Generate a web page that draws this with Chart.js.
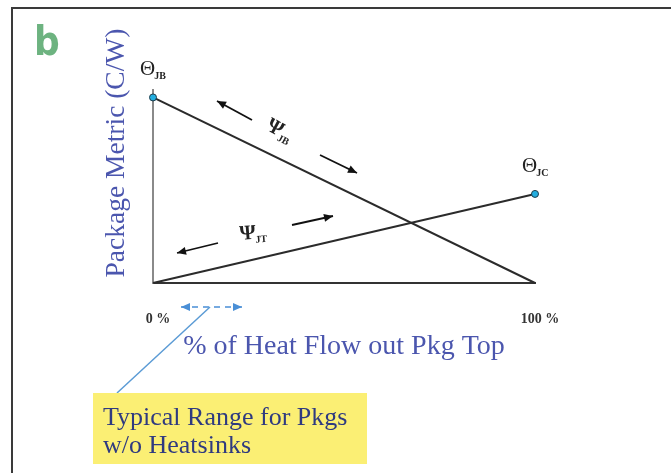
<!DOCTYPE html>
<html>
<head>
<meta charset="utf-8">
<script src="https://cdn.jsdelivr.net/npm/chart.js@4.4.1/dist/chart.umd.min.js"></script>
<style>
  html, body { margin: 0; padding: 0; background: #fff; }
  #wrap { position: relative; width: 671px; height: 473px; overflow: hidden; background: #fff; }
  #frame { position: absolute; left: 11px; top: 7px; right: -2px; bottom: -2px; border-left: 2px solid #3a3a3a; border-top: 2px solid #3a3a3a; }
  #chart { position: absolute; left: 0; top: 0; }
</style>
</head>
<body>
<div id="wrap">
  <div id="frame"></div>
  <canvas id="chart" width="671" height="473"></canvas>
</div>
<script>
// Package metric vs share of heat leaving through the package top
const heatTopPct = [0, 100];          // % of heat flow out of pkg top
const psiJB = [1.0, 0];               // Θ_JB at 0 %, Ψ_JB falls to 0
const psiJT = [0, 0.48];              // Ψ_JT rises to Θ_JC at 100 %
const pctTicks = [0, 100];
const pctTickLabels = ['0 %', '100 %'];

const SERIF = '"Liberation Serif", "Times New Roman", serif';
const AXIS_BLUE = '#4b56ae';
const NAVY = '#2f3a80';

// ── drawing helpers ──
function arrow(ctx, x1, y1, x2, y2, color, both) {
  const head = (fx, fy, tx, ty) => {
    const a = Math.atan2(ty - fy, tx - fx);
    ctx.beginPath();
    ctx.moveTo(tx, ty);
    ctx.lineTo(tx - 9 * Math.cos(a) + 4 * Math.sin(a), ty - 9 * Math.sin(a) - 4 * Math.cos(a));
    ctx.lineTo(tx - 9 * Math.cos(a) - 4 * Math.sin(a), ty - 9 * Math.sin(a) + 4 * Math.cos(a));
    ctx.closePath();
    ctx.fill();
  };
  ctx.strokeStyle = color; ctx.fillStyle = color;
  ctx.beginPath(); ctx.moveTo(x1, y1); ctx.lineTo(x2, y2); ctx.stroke();
  ctx.setLineDash([]);
  head(x1, y1, x2, y2);
  if (both) head(x2, y2, x1, y1);
}

function symbol(ctx, x, y, big, sub, rot, weight) {
  ctx.save();
  ctx.translate(x, y);
  if (rot) ctx.rotate(rot);
  ctx.fillStyle = '#222';
  ctx.textAlign = 'left'; ctx.textBaseline = 'alphabetic';
  ctx.font = `${weight || ''} 21px ${SERIF}`;
  ctx.fillText(big, 0, 0);
  const w = ctx.measureText(big).width;
  ctx.font = `bold 10px ${SERIF}`;
  ctx.fillText(sub, w - 1, 4);
  ctx.restore();
}

const annotations = {
  id: 'annotations',
  afterDraw(chart) {
    const { ctx, scales: { x, y } } = chart;
    ctx.save();

    // panel letter
    ctx.fillStyle = '#6db380';
    ctx.font = 'bold 40px "Liberation Sans Narrow", "DejaVu Sans Condensed", sans-serif';
    ctx.textBaseline = 'alphabetic';
    ctx.fillText('b', 34, 55);

    // y title
    ctx.save();
    ctx.translate(124, 153);
    ctx.rotate(-Math.PI / 2);
    ctx.fillStyle = AXIS_BLUE;
    ctx.font = `27.5px ${SERIF}`;
    ctx.textAlign = 'center';
    ctx.fillText('Package Metric (C/W)', 0, 0);
    ctx.restore();

    // Θ labels anchored at the end points
    const jbX = x.getPixelForValue(heatTopPct[0]), jbY = y.getPixelForValue(psiJB[0]);
    const jcX = x.getPixelForValue(heatTopPct[1]), jcY = y.getPixelForValue(psiJT[1]);
    symbol(ctx, jbX - 13, jbY - 22, 'Θ', 'JB');
    symbol(ctx, jcX - 13, jcY - 22, 'Θ', 'JC');

    // Ψ labels with direction arrows
    ctx.lineWidth = 1.8;
    symbol(ctx, 265, 129, 'Ψ', 'JB', 0.5, 'bold');
    arrow(ctx, 252, 120, 217, 101, '#111');
    arrow(ctx, 320, 155, 357, 173, '#111');
    symbol(ctx, 240, 240, 'Ψ', 'JT', -0.08, 'bold');
    arrow(ctx, 218, 243, 177, 253, '#111');
    arrow(ctx, 292, 225, 333, 216, '#111');

    // typical range marker
    ctx.lineWidth = 1.6;
    ctx.setLineDash([6, 5]);
    arrow(ctx, 181, 307, 242, 307, '#4a8fd6', true);
    ctx.setLineDash([]);
    ctx.strokeStyle = '#5b9bd5'; ctx.lineWidth = 1.5;
    ctx.beginPath(); ctx.moveTo(210, 307); ctx.lineTo(117, 393); ctx.stroke();

    // callout box
    ctx.fillStyle = '#fbef74';
    ctx.fillRect(93, 393, 274, 71);
    ctx.fillStyle = NAVY;
    ctx.font = `26px ${SERIF}`;
    ctx.textAlign = 'left';
    ctx.fillText('Typical Range for Pkgs', 103, 425);
    ctx.fillText('w/o Heatsinks', 103, 453);

    ctx.restore();
  }
};

new Chart(document.getElementById('chart'), {
  type: 'line',
  data: {
    datasets: [
      {
        label: 'Ψ_JB',
        data: heatTopPct.map((v, i) => ({ x: v, y: psiJB[i] })),
        borderColor: '#2b2b2b', borderWidth: 2,
        pointRadius: [3.5, 0],
        pointBackgroundColor: '#22aee0', pointBorderColor: '#1d3b4a', pointBorderWidth: 1,
        clip: false,
      },
      {
        label: 'Ψ_JT',
        data: heatTopPct.map((v, i) => ({ x: v, y: psiJT[i] })),
        borderColor: '#2b2b2b', borderWidth: 2,
        pointRadius: [0, 3.5],
        pointBackgroundColor: '#22aee0', pointBorderColor: '#1d3b4a', pointBorderWidth: 1,
        clip: false,
      },
    ],
  },
  options: {
    responsive: false, animation: false,
    layout: { padding: { left: 153, right: 136, top: 90, bottom: 110 } },
    plugins: { legend: { display: false }, tooltip: { enabled: false } },
    scales: {
      x: {
        type: 'linear', min: 0, max: 100,
        grid: { display: false },
        border: { color: '#333', width: 2 },
        afterBuildTicks: (s) => { s.ticks = pctTicks.map(v => ({ value: v })); },
        afterFit: (s) => { s.height = 80; },
        ticks: {
          padding: 20, labelOffset: 5, color: '#333',
          font: { family: SERIF, size: 14, weight: 'bold' },
          callback: (v) => pctTickLabels[pctTicks.indexOf(v)],
        },
        title: {
          display: true, text: '% of Heat Flow out Pkg Top', color: AXIS_BLUE,
          font: { family: SERIF, size: 28 }, padding: 0,
        },
      },
      y: {
        min: 0, max: 1.04,
        grid: { display: false },
        border: { color: '#8a8a8a', width: 2 },
        ticks: { display: false },
        afterFit: (s) => { s.width = 0; },
      },
    },
  },
  plugins: [annotations],
});
</script>
</body>
</html>
